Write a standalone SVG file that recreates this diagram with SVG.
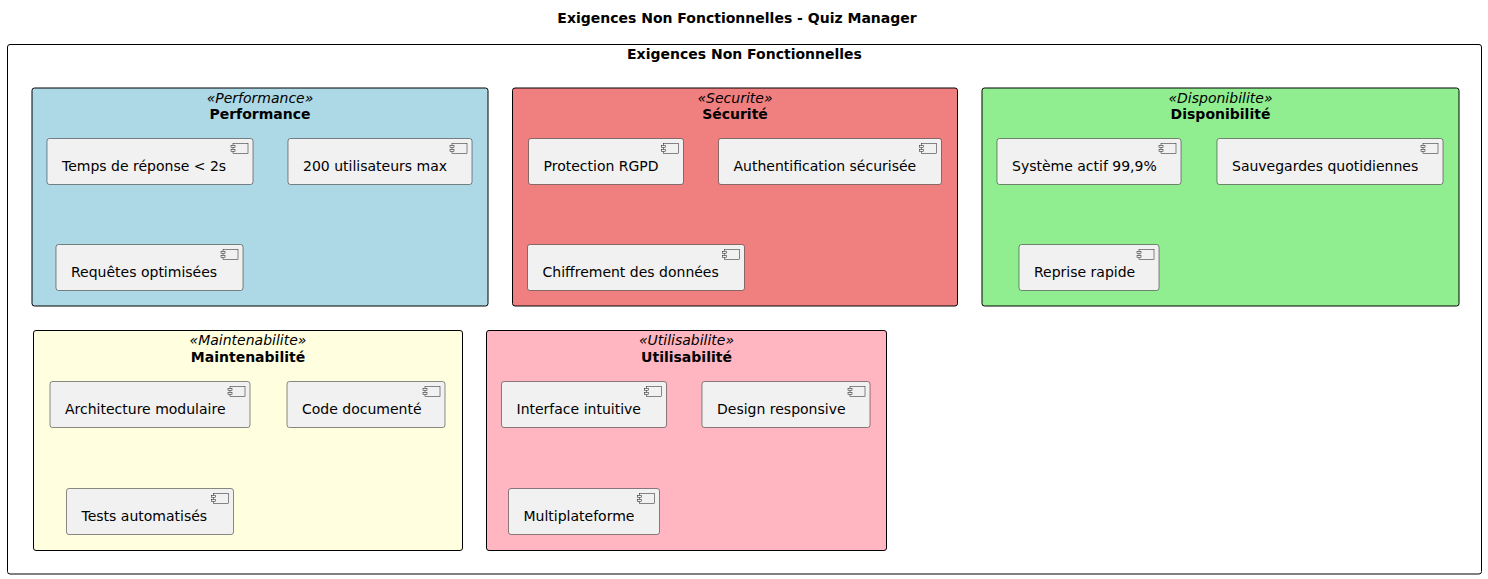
<svg xmlns="http://www.w3.org/2000/svg" xmlns:xlink="http://www.w3.org/1999/xlink" width="1488" height="579" viewBox="0 0 1488 579">
<style>
text{font-family:"DejaVu Sans","Liberation Sans",sans-serif;fill:#000}
.title{font-size:14px;font-weight:bold;text-anchor:middle}
.st{font-size:14px;font-style:italic;text-anchor:middle}
.pn{font-size:14px;font-weight:bold;text-anchor:middle}
.ct{font-size:14px}
.frame{fill:#fff;stroke:#000;stroke-width:1}
.pkg{stroke:#000;stroke-width:1}
.comp{fill:#F1F1F1;stroke:#181818;stroke-width:0.5}
.ic{fill:#F1F1F1;stroke:#181818;stroke-width:0.5}
</style>
<defs>
<g id="icon">
<rect class="ic" x="-20" y="5" width="15" height="10"/>
<rect class="ic" x="-22" y="7" width="4" height="2"/>
<rect class="ic" x="-22" y="11" width="4" height="2"/>
</g>
</defs>
<rect width="1488" height="579" fill="#fff"/>
<text class="title" x="737" y="23">Exigences Non Fonctionnelles - Quiz Manager</text>
<g id="frame">
<rect class="frame" x="7.5" y="44.5" width="1474" height="529.5" rx="2.5"/>
<text class="title" x="744.5" y="59">Exigences Non Fonctionnelles</text>
</g>

<g id="pkg-performance">
<rect class="pkg" x="32" y="88" width="456" height="218" rx="2.5" fill="#ADD8E6"/>
<text class="st" x="260" y="102.5">«Performance»</text>
<text class="pn" x="260" y="119">Performance</text>
</g>
<g id="pkg-securite">
<rect class="pkg" x="512.5" y="88" width="445" height="218" rx="2.5" fill="#F08080"/>
<text class="st" x="735" y="102.5">«Securite»</text>
<text class="pn" x="735" y="119">Sécurité</text>
</g>
<g id="pkg-disponibilite">
<rect class="pkg" x="982" y="88" width="477" height="218" rx="2.5" fill="#90EE90"/>
<text class="st" x="1220.5" y="102.5">«Disponibilite»</text>
<text class="pn" x="1220.5" y="119">Disponibilité</text>
</g>
<g id="pkg-maintenabilite">
<rect class="pkg" x="33.5" y="330.5" width="429" height="220" rx="2.5" fill="#FFFFE0"/>
<text class="st" x="248" y="345">«Maintenabilite»</text>
<text class="pn" x="248" y="361.5">Maintenabilité</text>
</g>
<g id="pkg-utilisabilite">
<rect class="pkg" x="486.5" y="330.5" width="400" height="220" rx="2.5" fill="#FFB6C1"/>
<text class="st" x="686.5" y="345">«Utilisabilite»</text>
<text class="pn" x="686.5" y="361.5">Utilisabilité</text>
</g>

<g id="c-temps">
<rect class="comp" x="47" y="138.5" width="206" height="46" rx="2.5"/>
<use xlink:href="#icon" href="#icon" x="253" y="138.5"/>
<text class="ct" x="62" y="170.5">Temps de réponse &lt; 2s</text>
</g>
<g id="c-200">
<rect class="comp" x="288" y="138.5" width="184" height="46" rx="2.5"/>
<use xlink:href="#icon" href="#icon" x="472" y="138.5"/>
<text class="ct" x="303" y="170.5">200 utilisateurs max</text>
</g>
<g id="c-requetes">
<rect class="comp" x="56" y="244.5" width="187" height="46" rx="2.5"/>
<use xlink:href="#icon" href="#icon" x="243" y="244.5"/>
<text class="ct" x="71" y="276.5">Requêtes optimisées</text>
</g>

<g id="c-rgpd">
<rect class="comp" x="528.5" y="138.5" width="155" height="46" rx="2.5"/>
<use xlink:href="#icon" href="#icon" x="683.5" y="138.5"/>
<text class="ct" x="543.5" y="170.5">Protection RGPD</text>
</g>
<g id="c-auth">
<rect class="comp" x="718.5" y="138.5" width="223" height="46" rx="2.5"/>
<use xlink:href="#icon" href="#icon" x="941.5" y="138.5"/>
<text class="ct" x="733.5" y="170.5">Authentification sécurisée</text>
</g>
<g id="c-chiffrement">
<rect class="comp" x="527.5" y="244.5" width="217" height="46" rx="2.5"/>
<use xlink:href="#icon" href="#icon" x="744.5" y="244.5"/>
<text class="ct" x="542.5" y="276.5">Chiffrement des données</text>
</g>

<g id="c-systeme">
<rect class="comp" x="997" y="138.5" width="184" height="46" rx="2.5"/>
<use xlink:href="#icon" href="#icon" x="1181" y="138.5"/>
<text class="ct" x="1012" y="170.5">Système actif 99,9%</text>
</g>
<g id="c-sauvegardes">
<rect class="comp" x="1217" y="138.5" width="226" height="46" rx="2.5"/>
<use xlink:href="#icon" href="#icon" x="1443" y="138.5"/>
<text class="ct" x="1232" y="170.5">Sauvegardes quotidiennes</text>
</g>
<g id="c-reprise">
<rect class="comp" x="1019" y="244.5" width="140" height="46" rx="2.5"/>
<use xlink:href="#icon" href="#icon" x="1159" y="244.5"/>
<text class="ct" x="1034" y="276.5">Reprise rapide</text>
</g>

<g id="c-architecture">
<rect class="comp" x="50" y="381.5" width="200" height="46" rx="2.5"/>
<use xlink:href="#icon" href="#icon" x="250" y="381.5"/>
<text class="ct" x="65" y="413.5">Architecture modulaire</text>
</g>
<g id="c-code">
<rect class="comp" x="287" y="381.5" width="158" height="46" rx="2.5"/>
<use xlink:href="#icon" href="#icon" x="445" y="381.5"/>
<text class="ct" x="302" y="413.5">Code documenté</text>
</g>
<g id="c-tests">
<rect class="comp" x="66.5" y="488.5" width="167" height="46" rx="2.5"/>
<use xlink:href="#icon" href="#icon" x="233.5" y="488.5"/>
<text class="ct" x="81.5" y="520.5">Tests automatisés</text>
</g>

<g id="c-interface">
<rect class="comp" x="501.5" y="381.5" width="165" height="46" rx="2.5"/>
<use xlink:href="#icon" href="#icon" x="666.5" y="381.5"/>
<text class="ct" x="516.5" y="413.5">Interface intuitive</text>
</g>
<g id="c-design">
<rect class="comp" x="702" y="381.5" width="168" height="46" rx="2.5"/>
<use xlink:href="#icon" href="#icon" x="870" y="381.5"/>
<text class="ct" x="717" y="413.5">Design responsive</text>
</g>
<g id="c-multi">
<rect class="comp" x="508.5" y="488.5" width="151" height="46" rx="2.5"/>
<use xlink:href="#icon" href="#icon" x="659.5" y="488.5"/>
<text class="ct" x="523.5" y="520.5">Multiplateforme</text>
</g>

<g id="connectors"></g>
</svg>
